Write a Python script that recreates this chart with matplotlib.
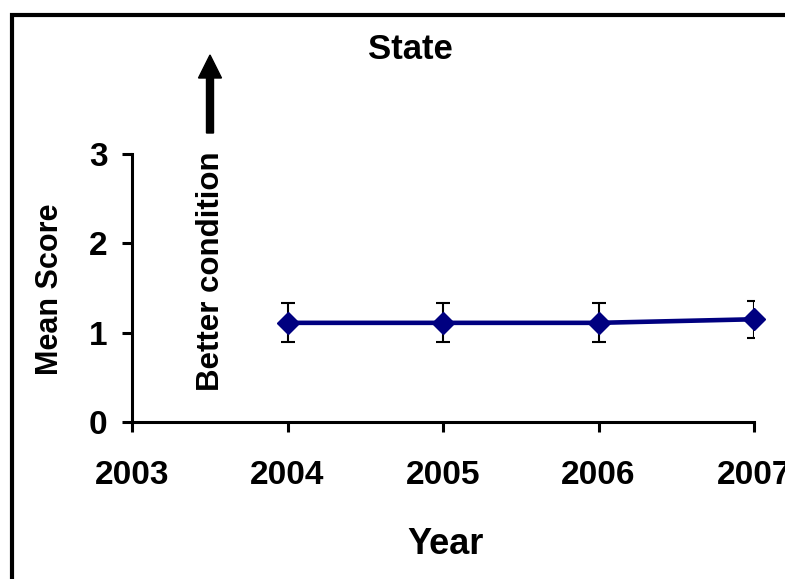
import matplotlib
matplotlib.use("Agg")
import matplotlib.pyplot as plt
from matplotlib.patches import Rectangle, FancyArrow

years = [2004, 2005, 2006, 2007]
mean_score = [1.11, 1.11, 1.11, 1.15]
err = [0.22, 0.22, 0.22, 0.21]
xticks = [2003, 2004, 2005, 2006, 2007]
yticks = [0, 1, 2, 3]

plt.rcParams['font.family'] = ['Liberation Sans', 'DejaVu Sans']
plt.rcParams['font.weight'] = 'bold'

W, H = 785, 579
fig = plt.figure(figsize=(W/100, H/100), dpi=100)
ax = fig.add_axes([132/W, 1-422/H, (754-132)/W, (422-154)/H])

ax.errorbar(years, mean_score, yerr=err, fmt='none', ecolor='black',
            elinewidth=1.5, capsize=4.7, capthick=1.5, zorder=2)
ax.plot(years, mean_score, color='#000080', lw=3.3, marker='D', markersize=11.5,
        markerfacecolor='#000080', markeredgecolor='#000080', zorder=3, clip_on=False)

ax.set_xlim(2003, 2007)
ax.set_ylim(0, 3)
ax.set_xticks(xticks)
ax.set_yticks(yticks)
ax.set_xticklabels([str(t) for t in xticks], fontsize=24, fontweight='bold')
ax.set_yticklabels([str(t) for t in yticks], fontsize=24, fontweight='bold')
for s in ['top', 'right']:
    ax.spines[s].set_visible(False)
for s in ['left', 'bottom']:
    ax.spines[s].set_linewidth(2.2)
    ax.spines[s].set_color('black')
ax.tick_params(axis='both', direction='out', length=7.5, width=2.2, color='black')
ax.tick_params(axis='x', pad=20)
ax.tick_params(axis='y', pad=10)
ax.patch.set_alpha(0)

# frame border
fig.add_artist(Rectangle((12/W, -0.2), 1.2, 1.2 - 15/H,
                         transform=fig.transFigure, fill=False, lw=3, ec='black'))

fig.text(410/W, 1-49.5/H, 'State', fontsize=25, fontweight='bold', ha='center', va='center')
fig.text(446/W, 1-545/H, 'Year', fontsize=26, fontweight='bold', ha='center', va='center')
fig.text(50/W, 1-289/H, 'Mean Score', fontsize=22, fontweight='bold', ha='center', va='center', rotation=90)
fig.text(211/W, 1-271.5/H, 'Better condition', fontsize=22.5, fontweight='bold', ha='center', va='center', rotation=90)

fig.add_artist(FancyArrow(2.10, (H-133)/100, 0, 0.78, width=0.07, head_width=0.23,
                          head_length=0.23, length_includes_head=True, color='black',
                          transform=fig.dpi_scale_trans))

fig.savefig('out.png', dpi=100)
